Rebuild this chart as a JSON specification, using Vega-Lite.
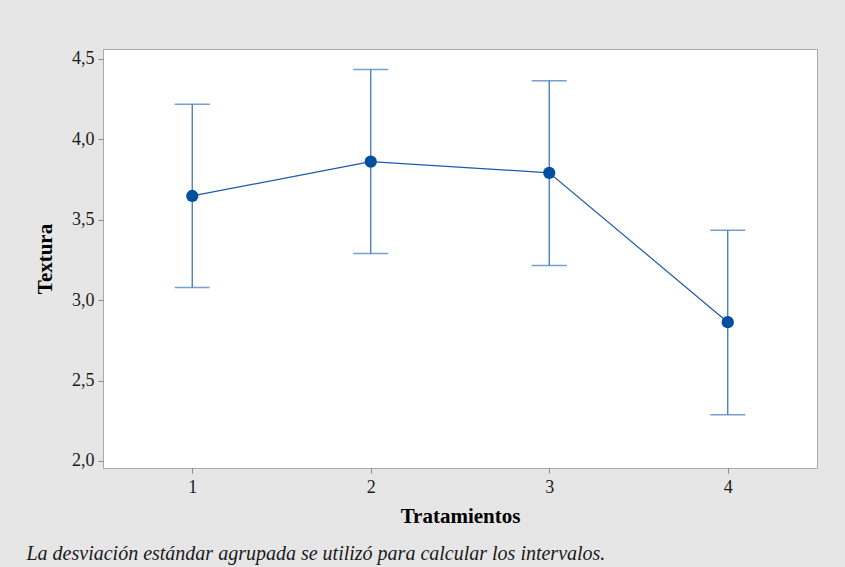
{
  "$schema": "https://vega.github.io/schema/vega-lite/v6.json",
  "autosize": {"type": "none"},
  "width": 714,
  "height": 419,
  "padding": {"left": 103, "top": 49, "right": 28, "bottom": 99},
  "background": "#e6e6e6",
  "config": {
    "font": "Liberation Serif",
    "view": {"fill": "white", "stroke": "#a9a9a9", "strokeWidth": 1},
    "axis": {
      "domain": false,
      "grid": false,
      "tickColor": "#8c8c8c",
      "tickSize": 5,
      "labelFont": "Liberation Serif",
      "labelFontSize": 18,
      "labelColor": "#1a1a1a",
      "titleFont": "Liberation Serif",
      "titleFontSize": 21,
      "titleFontWeight": "bold",
      "titleColor": "black"
    }
  },
  "title": {
    "text": "La desviación estándar agrupada se utilizó para calcular los intervalos.",
    "orient": "bottom",
    "anchor": "start",
    "font": "Liberation Serif",
    "fontSize": 20,
    "fontStyle": "italic",
    "fontWeight": "normal",
    "color": "#1a1a1a",
    "dx": -8,
    "offset": 18
  },
  "data": {
    "values": [
      {"Tratamiento": 1, "Textura": 3.648, "lower": 3.078, "upper": 4.218},
      {"Tratamiento": 2, "Textura": 3.862, "lower": 3.290, "upper": 4.435},
      {"Tratamiento": 3, "Textura": 3.792, "lower": 3.216, "upper": 4.365},
      {"Tratamiento": 4, "Textura": 2.863, "lower": 2.287, "upper": 3.434}
    ]
  },
  "encoding": {
    "x": {
      "field": "Tratamiento",
      "type": "quantitative",
      "scale": {"domain": [0.5, 4.5], "nice": false, "zero": false},
      "axis": {"values": [1, 2, 3, 4], "format": "d", "title": "Tratamientos", "labelPadding": 5, "titlePadding": 9}
    }
  },
  "layer": [
    {
      "mark": {"type": "rule", "color": "#3d78bb", "strokeWidth": 1.3},
      "encoding": {
        "y": {
          "field": "lower",
          "type": "quantitative",
          "scale": {"domain": [1.956, 4.562], "nice": false, "zero": false},
          "axis": {
            "values": [2.0, 2.5, 3.0, 3.5, 4.0, 4.5],
            "labelExpr": "replace(format(datum.value, '.1f'), '.', ',')",
            "title": "Textura",
            "labelPadding": 4,
            "titlePadding": 16
          }
        },
        "y2": {"field": "upper"}
      }
    },
    {
      "mark": {"type": "tick", "orient": "horizontal", "color": "#3d78bb", "size": 35, "thickness": 1.5},
      "encoding": {"y": {"field": "lower", "type": "quantitative"}}
    },
    {
      "mark": {"type": "tick", "orient": "horizontal", "color": "#3d78bb", "size": 35, "thickness": 1.5},
      "encoding": {"y": {"field": "upper", "type": "quantitative"}}
    },
    {
      "mark": {"type": "line", "color": "#1d5aa6", "strokeWidth": 1.2},
      "encoding": {"y": {"field": "Textura", "type": "quantitative"}}
    },
    {
      "mark": {"type": "point", "filled": true, "shape": "circle", "size": 150, "color": "#00509f", "opacity": 1},
      "encoding": {"y": {"field": "Textura", "type": "quantitative"}}
    }
  ]
}
